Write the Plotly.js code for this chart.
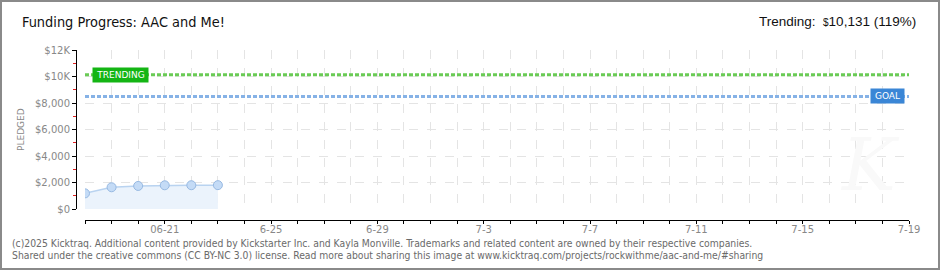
<!DOCTYPE html>
<html><head><meta charset="utf-8">
<script src="https://cdn.plot.ly/plotly-3.0.1.min.js"></script>
<style>
html,body{margin:0;padding:0;background:#fff;}
#wrap{position:relative;width:940px;height:270px;}
#chart{width:940px;height:270px;}
#frame{position:absolute;left:0;top:0;width:940px;height:270px;box-sizing:border-box;border:2px solid #8a8a8a;pointer-events:none;}
</style></head>
<body>
<div id="wrap"><div id="chart"></div><div id="frame"></div></div>
<script>
// ---- data ----
const dates = ['2025-06-18','2025-06-19','2025-06-20','2025-06-21','2025-06-22','2025-06-23'];
const pledged = [1180, 1640, 1740, 1790, 1795, 1800];
const goal = 8500;
const trending = 10131;
const labelTickDates = ['2025-06-21','2025-06-25','2025-06-29','2025-07-03','2025-07-07','2025-07-11','2025-07-15','2025-07-19'];
const labelTickText = ['06-21','6-25','6-29','7-3','7-7','7-11','7-15','7-19'];
const yTickVals = [0, 2000, 4000, 6000, 8000, 10000, 12000];
const yTickText = ['$0','$2,000','$4,000','$6,000','$8,000','$10K','$12K'];
const yMinorVals = [1000, 3000, 5000, 7000, 9000, 11000];
const xStart = '2025-06-18', xEnd = '2025-07-19';

// all day ticks
const dayTicks = [], dayText = [];
{
  let d = new Date(xStart + 'T00:00:00Z'); const e = new Date(xEnd + 'T00:00:00Z');
  while (d <= e) {
    const s = d.toISOString().slice(0,10);
    dayTicks.push(s);
    const i = labelTickDates.indexOf(s);
    dayText.push(i >= 0 ? labelTickText[i] : '');
    d = new Date(d.getTime() + 86400000);
  }
}

// geometry helpers (pixel -> paper)
const L = 76, R = 31, T = 50, B = 50, W = 940 - L - R, H = 270 - T - B;
const px = x => (x - L) / W;
const py = y => (270 - B - y) / H;

const gray = '#888';
const traces = [{
  x: dates, y: pledged, type: 'scatter', mode: 'lines+markers',
  fill: 'tozeroy', fillcolor: '#ebf3fc',
  line: {color: '#b9d3f0', width: 1.5},
  marker: {size: 9, color: '#c4dbf6', line: {color: '#97b9e2', width: 1}},
  hoverinfo: 'skip', showlegend: false
}];

const layout = {
  width: 940, height: 270,
  margin: {l: L, r: R, t: T, b: B},
  paper_bgcolor: '#fff', plot_bgcolor: '#fff',
  showlegend: false,
  xaxis: {
    type: 'date', range: [xStart, xEnd], domain: [px(85), 1],
    anchor: 'free', position: 0,
    tickmode: 'array', tickvals: dayTicks, ticktext: dayText,
    ticks: 'outside', ticklen: 3, tickcolor: '#000', tickwidth: 1,
    ticklabelstandoff: -3,
    showline: true, linecolor: '#000', linewidth: 1,
    showgrid: true, gridcolor: '#e4e4e4', griddash: 'dash', gridwidth: 1,
    zeroline: false,
    tickfont: {family: 'DejaVu Sans', size: 10, color: gray}
  },
  yaxis: {
    range: [0, 12000], domain: [py(209), 1],
    anchor: 'free', position: 0,
    tickmode: 'array', tickvals: yTickVals, ticktext: yTickText,
    ticks: 'outside', ticklen: 4, tickcolor: '#000', tickwidth: 1,
    minor: {tickmode: 'array', tickvals: yMinorVals, ticks: 'outside', ticklen: 3, tickcolor: '#e02020', showgrid: false},
    showline: true, linecolor: '#000', linewidth: 1,
    showgrid: true, gridcolor: '#e4e4e4', griddash: 'dash', gridwidth: 1,
    zeroline: false,
    tickfont: {family: 'DejaVu Sans', size: 10, color: gray}
  },
  shapes: [
    {type: 'line', xref: 'x domain', x0: 0, x1: 1, yref: 'y', y0: trending, y1: trending,
     line: {color: '#6acb55', width: 3, dash: '4px,2px'}},
    {type: 'line', xref: 'x domain', x0: 0, x1: 1, yref: 'y', y0: goal, y1: goal,
     line: {color: '#86b2e6', width: 3, dash: '4px,2px'}}
  ],
  annotations: [
    {xref: 'paper', yref: 'paper', x: px(20), y: py(22), xanchor: 'left', yanchor: 'middle', showarrow: false,
     text: 'Funding Progress: AAC and Me!', font: {family: 'DejaVu Sans Condensed', size: 14.4, color: '#111'}},
    {xref: 'paper', yref: 'paper', x: px(918), y: py(22), xanchor: 'right', yanchor: 'middle', showarrow: false,
     text: 'Trending:  <span style="font-size:10px">$</span>10,131 (119%)', font: {family: 'Liberation Sans', size: 13.5, color: '#111'}},
    {xref: 'paper', yref: 'paper', x: px(21), y: py(130), xanchor: 'center', yanchor: 'middle', showarrow: false,
     textangle: -90, text: 'PLEDGED', font: {family: 'DejaVu Sans', size: 9, color: gray}},
    {xref: 'paper', yref: 'y', x: px(120.5), y: trending, xanchor: 'center', yanchor: 'middle', showarrow: false,
     text: 'TRENDING', bgcolor: '#14b514', width: 53, height: 12, borderpad: 1,
     font: {family: 'DejaVu Sans', size: 9, color: '#fff'}},
    {xref: 'paper', yref: 'y', x: px(887.5), y: goal, xanchor: 'center', yanchor: 'middle', showarrow: false,
     text: 'GOAL', bgcolor: '#3a86d6', width: 31, height: 12, borderpad: 1,
     font: {family: 'DejaVu Sans', size: 9, color: '#fff'}},
    {xref: 'paper', yref: 'paper', x: px(870), y: py(165), xanchor: 'center', yanchor: 'middle', showarrow: false,
     text: '<i>K</i>', font: {family: 'DejaVu Serif', size: 72, color: '#f9f9f9'}},
    {xref: 'paper', yref: 'paper', x: px(10), y: py(243), xanchor: 'left', yanchor: 'middle', showarrow: false,
     text: '(c)2025 Kicktraq. Additional content provided by Kickstarter Inc. and Kayla Monville. Trademarks and related content are owned by their respective companies.',
     font: {family: 'DejaVu Sans Condensed', size: 10.3, color: '#6a6a6a'}},
    {xref: 'paper', yref: 'paper', x: px(10), y: py(255), xanchor: 'left', yanchor: 'middle', showarrow: false,
     text: 'Shared under the creative commons (CC BY-NC 3.0) license. Read more about sharing this image at www.kicktraq.com/projects/rockwithme/aac-and-me/#sharing',
     font: {family: 'DejaVu Sans Condensed', size: 10.3, color: '#6a6a6a'}}
  ]
};

Plotly.newPlot('chart', traces, layout, {staticPlot: true, displayModeBar: false});
</script>
</body></html>
